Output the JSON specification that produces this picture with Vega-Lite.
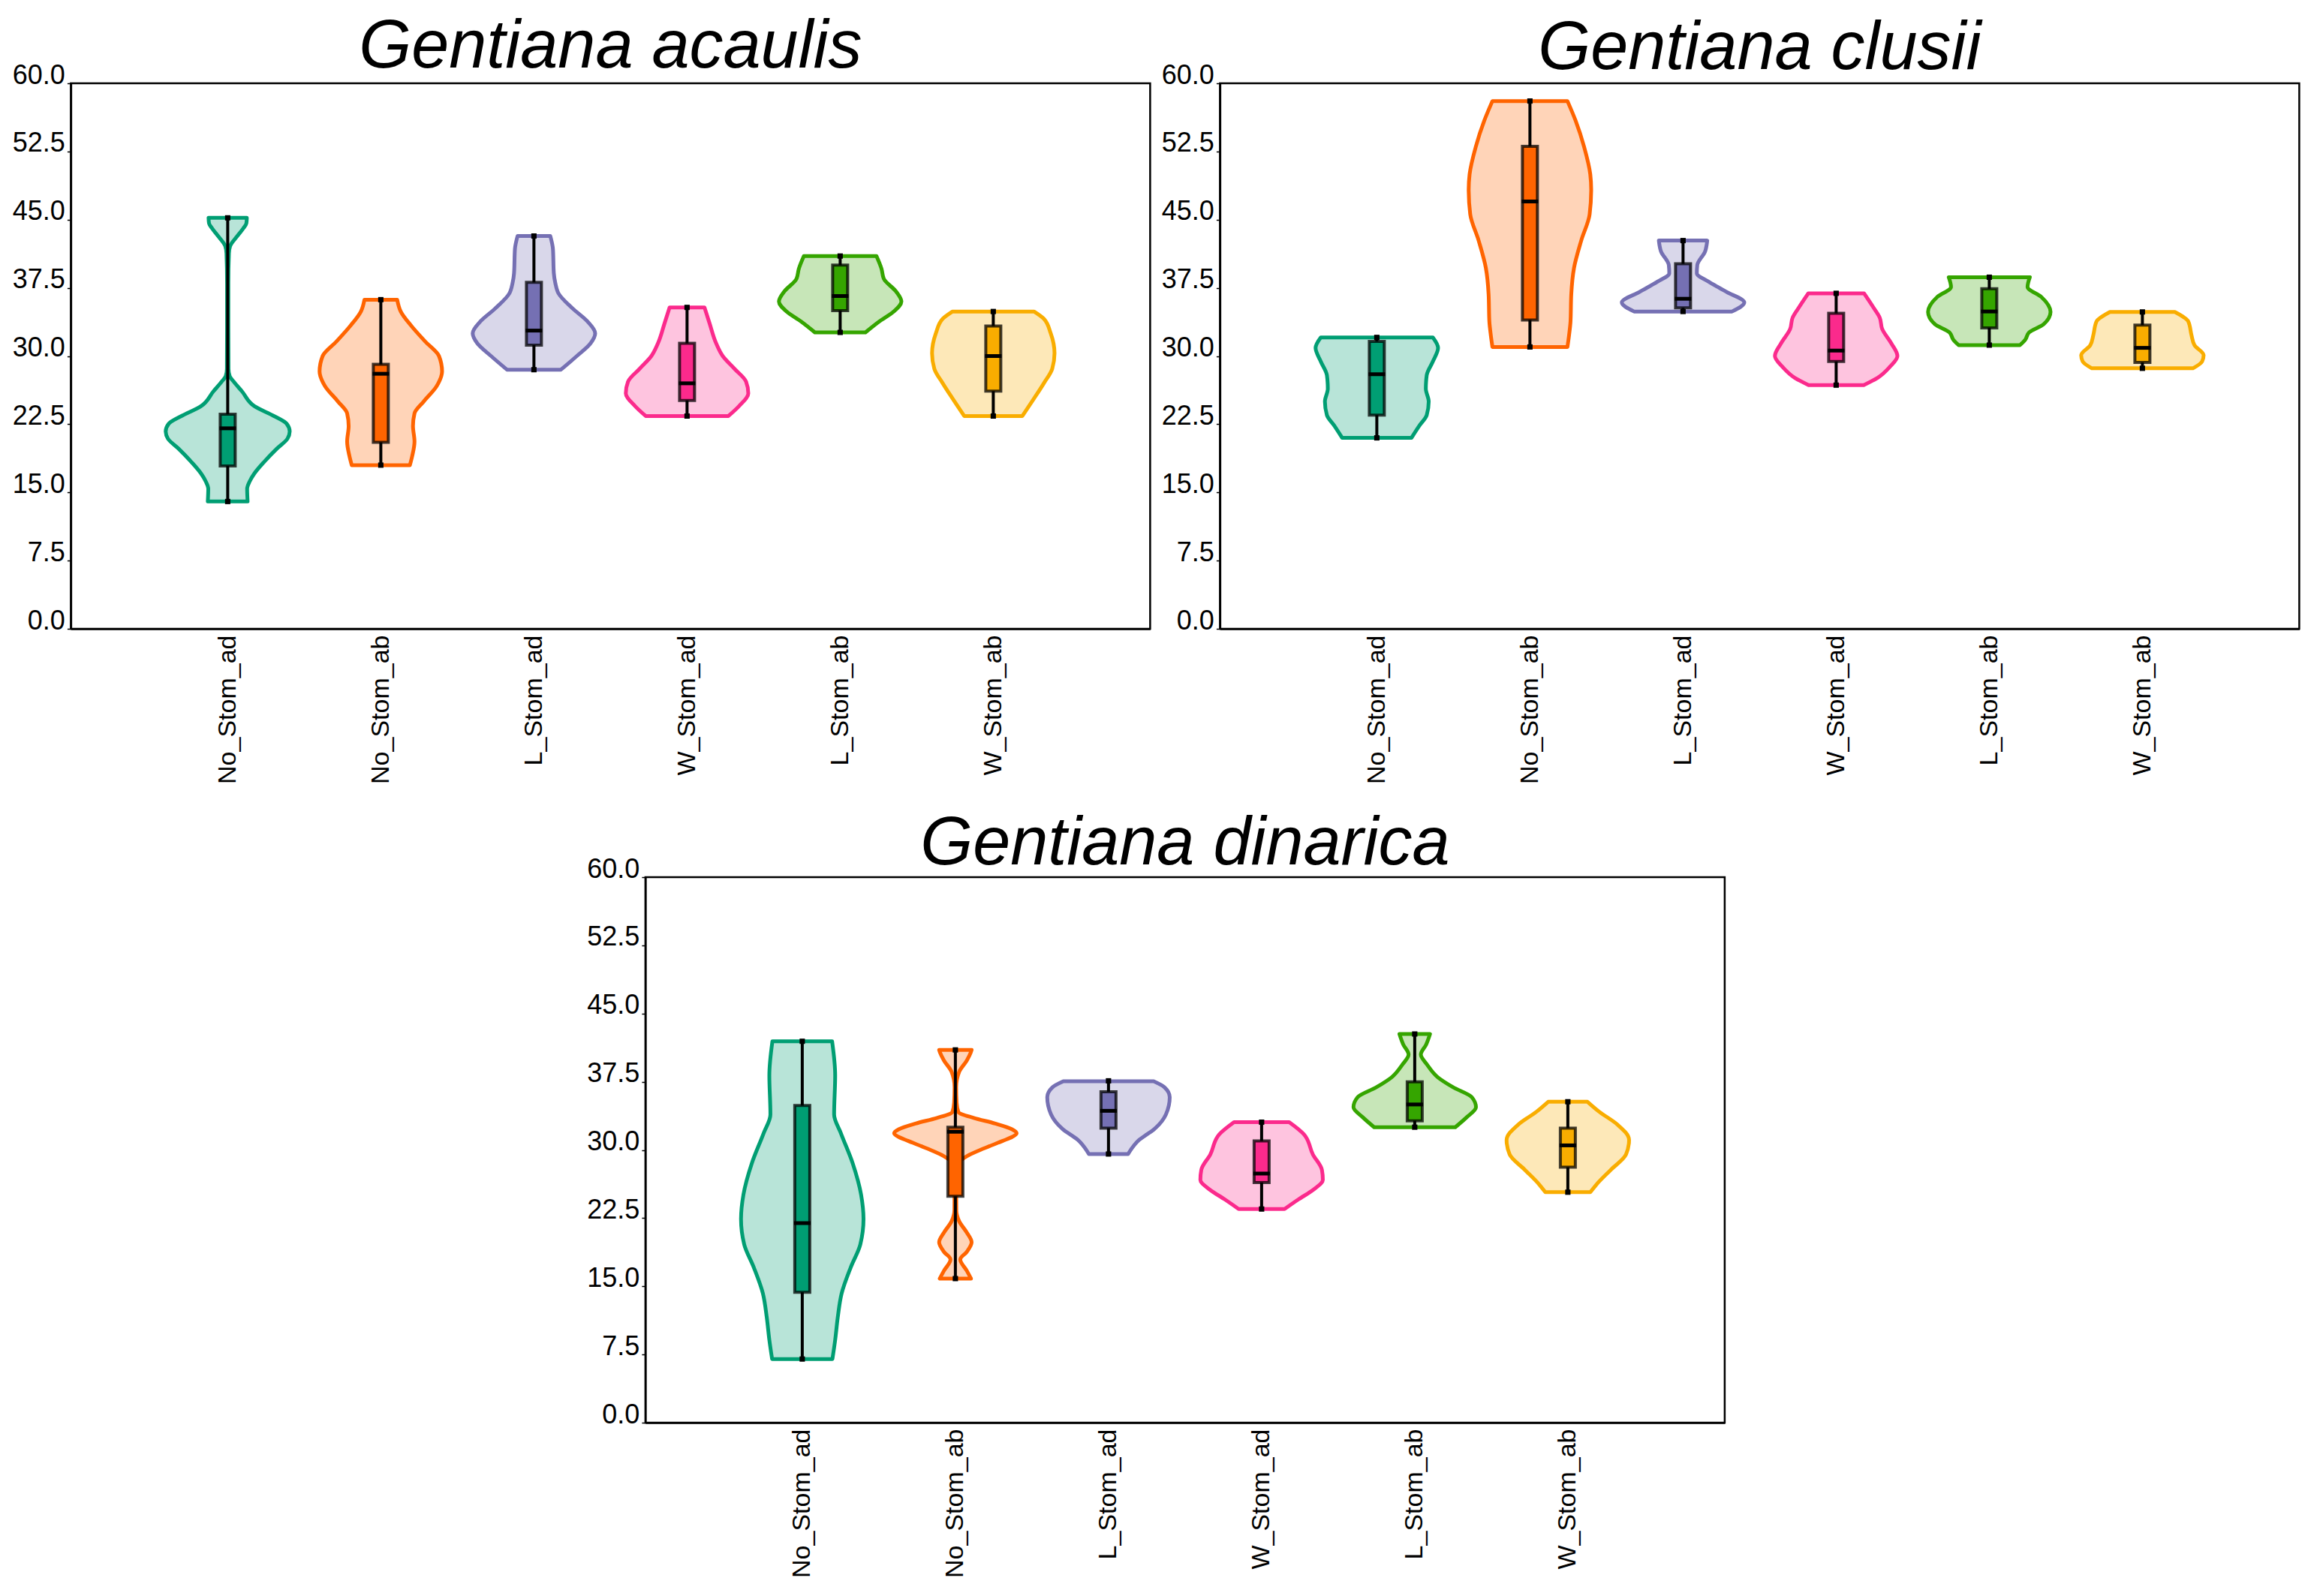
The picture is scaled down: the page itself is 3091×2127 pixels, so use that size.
{
  "$schema": "https://vega.github.io/schema/vega-lite/v6.json",
  "background": "white",
  "padding": {"left": 15, "top": 16, "right": 0, "bottom": 0},
  "config": {
    "font": "Liberation Sans",
    "view": {"stroke": "black", "strokeWidth": 2.5},
    "axis": {"grid": false, "domainColor": "black", "domainWidth": 2.5, "labelColor": "black", "labelFont": "Liberation Sans", "tickColor": "black", "labelOverlap": false, "labelFlush": false, "labelLimit": 400},
    "title": {"font": "Liberation Sans", "fontSize": 90, "fontStyle": "italic", "fontWeight": "normal", "color": "black", "anchor": "middle", "frame": "group", "baseline": "alphabetic"}
  },
  "datasets": {
    "violins": [
      {"sp":"acaulis","g":"No_Stom_ad","pos":1,"v":14.0,"w":0.13},{"sp":"acaulis","g":"No_Stom_ad","pos":1,"v":15.4,"w":0.127},{"sp":"acaulis","g":"No_Stom_ad","pos":1,"v":16.2,"w":0.143},{"sp":"acaulis","g":"No_Stom_ad","pos":1,"v":17.1,"w":0.175},{"sp":"acaulis","g":"No_Stom_ad","pos":1,"v":18.4,"w":0.24},{"sp":"acaulis","g":"No_Stom_ad","pos":1,"v":19.8,"w":0.32},{"sp":"acaulis","g":"No_Stom_ad","pos":1,"v":20.9,"w":0.39},{"sp":"acaulis","g":"No_Stom_ad","pos":1,"v":21.7,"w":0.405},{"sp":"acaulis","g":"No_Stom_ad","pos":1,"v":22.56,"w":0.385},{"sp":"acaulis","g":"No_Stom_ad","pos":1,"v":23.38,"w":0.305},{"sp":"acaulis","g":"No_Stom_ad","pos":1,"v":24.48,"w":0.175},{"sp":"acaulis","g":"No_Stom_ad","pos":1,"v":26.1,"w":0.094},{"sp":"acaulis","g":"No_Stom_ad","pos":1,"v":27.23,"w":0.037},{"sp":"acaulis","g":"No_Stom_ad","pos":1,"v":27.78,"w":0.013},{"sp":"acaulis","g":"No_Stom_ad","pos":1,"v":28.6,"w":0.005},{"sp":"acaulis","g":"No_Stom_ad","pos":1,"v":33.0,"w":0.004},{"sp":"acaulis","g":"No_Stom_ad","pos":1,"v":38.0,"w":0.004},{"sp":"acaulis","g":"No_Stom_ad","pos":1,"v":41.3,"w":0.008},{"sp":"acaulis","g":"No_Stom_ad","pos":1,"v":42.1,"w":0.016},{"sp":"acaulis","g":"No_Stom_ad","pos":1,"v":43.2,"w":0.063},{"sp":"acaulis","g":"No_Stom_ad","pos":1,"v":44.0,"w":0.1},{"sp":"acaulis","g":"No_Stom_ad","pos":1,"v":44.6,"w":0.122},{"sp":"acaulis","g":"No_Stom_ad","pos":1,"v":45.2,"w":0.125},
      {"sp":"acaulis","g":"No_Stom_ab","pos":2,"v":18.0,"w":0.19},{"sp":"acaulis","g":"No_Stom_ab","pos":2,"v":19.0,"w":0.205},{"sp":"acaulis","g":"No_Stom_ab","pos":2,"v":20.6,"w":0.22},{"sp":"acaulis","g":"No_Stom_ab","pos":2,"v":22.3,"w":0.21},{"sp":"acaulis","g":"No_Stom_ab","pos":2,"v":23.7,"w":0.22},{"sp":"acaulis","g":"No_Stom_ab","pos":2,"v":25.0,"w":0.28},{"sp":"acaulis","g":"No_Stom_ab","pos":2,"v":26.7,"w":0.365},{"sp":"acaulis","g":"No_Stom_ab","pos":2,"v":28.3,"w":0.4},{"sp":"acaulis","g":"No_Stom_ab","pos":2,"v":30.0,"w":0.38},{"sp":"acaulis","g":"No_Stom_ab","pos":2,"v":31.6,"w":0.29},{"sp":"acaulis","g":"No_Stom_ab","pos":2,"v":33.3,"w":0.2},{"sp":"acaulis","g":"No_Stom_ab","pos":2,"v":34.9,"w":0.13},{"sp":"acaulis","g":"No_Stom_ab","pos":2,"v":36.2,"w":0.107},
      {"sp":"acaulis","g":"L_Stom_ad","pos":3,"v":28.5,"w":0.176},{"sp":"acaulis","g":"L_Stom_ad","pos":3,"v":30.0,"w":0.28},{"sp":"acaulis","g":"L_Stom_ad","pos":3,"v":31.4,"w":0.37},{"sp":"acaulis","g":"L_Stom_ad","pos":3,"v":32.5,"w":0.4},{"sp":"acaulis","g":"L_Stom_ad","pos":3,"v":33.8,"w":0.35},{"sp":"acaulis","g":"L_Stom_ad","pos":3,"v":35.2,"w":0.255},{"sp":"acaulis","g":"L_Stom_ad","pos":3,"v":36.9,"w":0.16},{"sp":"acaulis","g":"L_Stom_ad","pos":3,"v":38.0,"w":0.14},{"sp":"acaulis","g":"L_Stom_ad","pos":3,"v":39.1,"w":0.13},{"sp":"acaulis","g":"L_Stom_ad","pos":3,"v":41.8,"w":0.124},{"sp":"acaulis","g":"L_Stom_ad","pos":3,"v":43.2,"w":0.107},
      {"sp":"acaulis","g":"W_Stom_ad","pos":4,"v":23.4,"w":0.27},{"sp":"acaulis","g":"W_Stom_ad","pos":4,"v":24.5,"w":0.34},{"sp":"acaulis","g":"W_Stom_ad","pos":4,"v":25.9,"w":0.4},{"sp":"acaulis","g":"W_Stom_ad","pos":4,"v":27.2,"w":0.385},{"sp":"acaulis","g":"W_Stom_ad","pos":4,"v":28.6,"w":0.31},{"sp":"acaulis","g":"W_Stom_ad","pos":4,"v":30.0,"w":0.233},{"sp":"acaulis","g":"W_Stom_ad","pos":4,"v":31.4,"w":0.19},{"sp":"acaulis","g":"W_Stom_ad","pos":4,"v":33.6,"w":0.147},{"sp":"acaulis","g":"W_Stom_ad","pos":4,"v":35.35,"w":0.114},
      {"sp":"acaulis","g":"L_Stom_ab","pos":5,"v":32.6,"w":0.165},{"sp":"acaulis","g":"L_Stom_ab","pos":5,"v":33.8,"w":0.255},{"sp":"acaulis","g":"L_Stom_ab","pos":5,"v":34.9,"w":0.35},{"sp":"acaulis","g":"L_Stom_ab","pos":5,"v":36.0,"w":0.4},{"sp":"acaulis","g":"L_Stom_ab","pos":5,"v":37.1,"w":0.365},{"sp":"acaulis","g":"L_Stom_ab","pos":5,"v":38.5,"w":0.285},{"sp":"acaulis","g":"L_Stom_ab","pos":5,"v":39.6,"w":0.27},{"sp":"acaulis","g":"L_Stom_ab","pos":5,"v":41.0,"w":0.237},
      {"sp":"acaulis","g":"W_Stom_ab","pos":6,"v":23.4,"w":0.19},{"sp":"acaulis","g":"W_Stom_ab","pos":6,"v":25.3,"w":0.265},{"sp":"acaulis","g":"W_Stom_ab","pos":6,"v":27.0,"w":0.33},{"sp":"acaulis","g":"W_Stom_ab","pos":6,"v":28.6,"w":0.385},{"sp":"acaulis","g":"W_Stom_ab","pos":6,"v":30.3,"w":0.4},{"sp":"acaulis","g":"W_Stom_ab","pos":6,"v":32.5,"w":0.375},{"sp":"acaulis","g":"W_Stom_ab","pos":6,"v":34.1,"w":0.33},{"sp":"acaulis","g":"W_Stom_ab","pos":6,"v":34.9,"w":0.266},
      {"sp":"clusii","g":"No_Stom_ad","pos":1,"v":21.0,"w":0.226},{"sp":"clusii","g":"No_Stom_ad","pos":1,"v":22.3,"w":0.276},{"sp":"clusii","g":"No_Stom_ad","pos":1,"v":23.5,"w":0.326},{"sp":"clusii","g":"No_Stom_ad","pos":1,"v":25.0,"w":0.339},{"sp":"clusii","g":"No_Stom_ad","pos":1,"v":26.4,"w":0.32},{"sp":"clusii","g":"No_Stom_ad","pos":1,"v":27.9,"w":0.326},{"sp":"clusii","g":"No_Stom_ad","pos":1,"v":29.4,"w":0.366},{"sp":"clusii","g":"No_Stom_ad","pos":1,"v":30.9,"w":0.4},{"sp":"clusii","g":"No_Stom_ad","pos":1,"v":32.05,"w":0.366},
      {"sp":"clusii","g":"No_Stom_ab","pos":2,"v":31.0,"w":0.245},{"sp":"clusii","g":"No_Stom_ab","pos":2,"v":32.35,"w":0.256},{"sp":"clusii","g":"No_Stom_ab","pos":2,"v":33.8,"w":0.265},{"sp":"clusii","g":"No_Stom_ab","pos":2,"v":36.8,"w":0.27},{"sp":"clusii","g":"No_Stom_ab","pos":2,"v":39.7,"w":0.288},{"sp":"clusii","g":"No_Stom_ab","pos":2,"v":42.7,"w":0.335},{"sp":"clusii","g":"No_Stom_ab","pos":2,"v":45.6,"w":0.39},{"sp":"clusii","g":"No_Stom_ab","pos":2,"v":48.3,"w":0.4},{"sp":"clusii","g":"No_Stom_ab","pos":2,"v":50.0,"w":0.394},{"sp":"clusii","g":"No_Stom_ab","pos":2,"v":53.0,"w":0.354},{"sp":"clusii","g":"No_Stom_ab","pos":2,"v":55.9,"w":0.298},{"sp":"clusii","g":"No_Stom_ab","pos":2,"v":58.05,"w":0.245},
      {"sp":"clusii","g":"L_Stom_ad","pos":3,"v":34.9,"w":0.32},{"sp":"clusii","g":"L_Stom_ad","pos":3,"v":35.9,"w":0.4},{"sp":"clusii","g":"L_Stom_ad","pos":3,"v":37.05,"w":0.285},{"sp":"clusii","g":"L_Stom_ad","pos":3,"v":38.2,"w":0.165},{"sp":"clusii","g":"L_Stom_ad","pos":3,"v":39.1,"w":0.09},{"sp":"clusii","g":"L_Stom_ad","pos":3,"v":40.0,"w":0.093},{"sp":"clusii","g":"L_Stom_ad","pos":3,"v":41.5,"w":0.144},{"sp":"clusii","g":"L_Stom_ad","pos":3,"v":42.7,"w":0.158},
      {"sp":"clusii","g":"W_Stom_ad","pos":4,"v":26.8,"w":0.18},{"sp":"clusii","g":"W_Stom_ad","pos":4,"v":27.6,"w":0.27},{"sp":"clusii","g":"W_Stom_ad","pos":4,"v":28.8,"w":0.35},{"sp":"clusii","g":"W_Stom_ad","pos":4,"v":30.0,"w":0.4},{"sp":"clusii","g":"W_Stom_ad","pos":4,"v":31.4,"w":0.36},{"sp":"clusii","g":"W_Stom_ad","pos":4,"v":33.0,"w":0.3},{"sp":"clusii","g":"W_Stom_ad","pos":4,"v":34.2,"w":0.285},{"sp":"clusii","g":"W_Stom_ad","pos":4,"v":35.3,"w":0.245},{"sp":"clusii","g":"W_Stom_ad","pos":4,"v":36.9,"w":0.182},
      {"sp":"clusii","g":"L_Stom_ab","pos":5,"v":31.2,"w":0.2},{"sp":"clusii","g":"L_Stom_ab","pos":5,"v":31.8,"w":0.235},{"sp":"clusii","g":"L_Stom_ab","pos":5,"v":32.6,"w":0.26},{"sp":"clusii","g":"L_Stom_ab","pos":5,"v":33.5,"w":0.355},{"sp":"clusii","g":"L_Stom_ab","pos":5,"v":34.85,"w":0.4},{"sp":"clusii","g":"L_Stom_ab","pos":5,"v":36.5,"w":0.34},{"sp":"clusii","g":"L_Stom_ab","pos":5,"v":37.6,"w":0.25},{"sp":"clusii","g":"L_Stom_ab","pos":5,"v":38.67,"w":0.265},
      {"sp":"clusii","g":"W_Stom_ab","pos":6,"v":28.65,"w":0.33},{"sp":"clusii","g":"W_Stom_ab","pos":6,"v":29.4,"w":0.39},{"sp":"clusii","g":"W_Stom_ab","pos":6,"v":30.1,"w":0.4},{"sp":"clusii","g":"W_Stom_ab","pos":6,"v":31.2,"w":0.34},{"sp":"clusii","g":"W_Stom_ab","pos":6,"v":32.35,"w":0.32},{"sp":"clusii","g":"W_Stom_ab","pos":6,"v":33.8,"w":0.3},{"sp":"clusii","g":"W_Stom_ab","pos":6,"v":34.85,"w":0.212},
      {"sp":"dinarica","g":"No_Stom_ad","pos":1,"v":7.0,"w":0.197},{"sp":"dinarica","g":"No_Stom_ad","pos":1,"v":9.1,"w":0.215},{"sp":"dinarica","g":"No_Stom_ad","pos":1,"v":11.6,"w":0.232},{"sp":"dinarica","g":"No_Stom_ad","pos":1,"v":14.2,"w":0.257},{"sp":"dinarica","g":"No_Stom_ad","pos":1,"v":17.1,"w":0.317},{"sp":"dinarica","g":"No_Stom_ad","pos":1,"v":19.6,"w":0.379},{"sp":"dinarica","g":"No_Stom_ad","pos":1,"v":22.4,"w":0.4},{"sp":"dinarica","g":"No_Stom_ad","pos":1,"v":25.1,"w":0.384},{"sp":"dinarica","g":"No_Stom_ad","pos":1,"v":28.5,"w":0.33},{"sp":"dinarica","g":"No_Stom_ad","pos":1,"v":31.85,"w":0.252},{"sp":"dinarica","g":"No_Stom_ad","pos":1,"v":33.9,"w":0.208},{"sp":"dinarica","g":"No_Stom_ad","pos":1,"v":38.2,"w":0.215},{"sp":"dinarica","g":"No_Stom_ad","pos":1,"v":41.95,"w":0.195},
      {"sp":"dinarica","g":"No_Stom_ab","pos":2,"v":15.85,"w":0.102},{"sp":"dinarica","g":"No_Stom_ab","pos":2,"v":16.7,"w":0.075},{"sp":"dinarica","g":"No_Stom_ab","pos":2,"v":17.95,"w":0.032},{"sp":"dinarica","g":"No_Stom_ab","pos":2,"v":18.8,"w":0.075},{"sp":"dinarica","g":"No_Stom_ab","pos":2,"v":19.85,"w":0.106},{"sp":"dinarica","g":"No_Stom_ab","pos":2,"v":20.9,"w":0.075},{"sp":"dinarica","g":"No_Stom_ab","pos":2,"v":22.15,"w":0.025},{"sp":"dinarica","g":"No_Stom_ab","pos":2,"v":23.4,"w":0.006},{"sp":"dinarica","g":"No_Stom_ab","pos":2,"v":27.0,"w":0.005},{"sp":"dinarica","g":"No_Stom_ab","pos":2,"v":28.06,"w":0.008},{"sp":"dinarica","g":"No_Stom_ab","pos":2,"v":28.69,"w":0.025},{"sp":"dinarica","g":"No_Stom_ab","pos":2,"v":29.31,"w":0.075},{"sp":"dinarica","g":"No_Stom_ab","pos":2,"v":30.16,"w":0.186},{"sp":"dinarica","g":"No_Stom_ab","pos":2,"v":31.0,"w":0.31},{"sp":"dinarica","g":"No_Stom_ab","pos":2,"v":31.42,"w":0.37},{"sp":"dinarica","g":"No_Stom_ab","pos":2,"v":31.84,"w":0.4},{"sp":"dinarica","g":"No_Stom_ab","pos":2,"v":32.27,"w":0.37},{"sp":"dinarica","g":"No_Stom_ab","pos":2,"v":32.9,"w":0.26},{"sp":"dinarica","g":"No_Stom_ab","pos":2,"v":33.52,"w":0.12},{"sp":"dinarica","g":"No_Stom_ab","pos":2,"v":34.16,"w":0.02},{"sp":"dinarica","g":"No_Stom_ab","pos":2,"v":35.2,"w":0.008},{"sp":"dinarica","g":"No_Stom_ab","pos":2,"v":36.9,"w":0.005},{"sp":"dinarica","g":"No_Stom_ab","pos":2,"v":38.6,"w":0.025},{"sp":"dinarica","g":"No_Stom_ab","pos":2,"v":39.85,"w":0.075},{"sp":"dinarica","g":"No_Stom_ab","pos":2,"v":40.7,"w":0.1},{"sp":"dinarica","g":"No_Stom_ab","pos":2,"v":41.0,"w":0.106},
      {"sp":"dinarica","g":"L_Stom_ad","pos":3,"v":29.55,"w":0.128},{"sp":"dinarica","g":"L_Stom_ad","pos":3,"v":31.1,"w":0.2},{"sp":"dinarica","g":"L_Stom_ad","pos":3,"v":32.3,"w":0.3},{"sp":"dinarica","g":"L_Stom_ad","pos":3,"v":33.9,"w":0.375},{"sp":"dinarica","g":"L_Stom_ad","pos":3,"v":35.8,"w":0.4},{"sp":"dinarica","g":"L_Stom_ad","pos":3,"v":36.9,"w":0.365},{"sp":"dinarica","g":"L_Stom_ad","pos":3,"v":37.55,"w":0.295},
      {"sp":"dinarica","g":"W_Stom_ad","pos":4,"v":23.5,"w":0.15},{"sp":"dinarica","g":"W_Stom_ad","pos":4,"v":24.55,"w":0.24},{"sp":"dinarica","g":"W_Stom_ad","pos":4,"v":25.65,"w":0.34},{"sp":"dinarica","g":"W_Stom_ad","pos":4,"v":26.7,"w":0.4},{"sp":"dinarica","g":"W_Stom_ad","pos":4,"v":27.8,"w":0.394},{"sp":"dinarica","g":"W_Stom_ad","pos":4,"v":29.5,"w":0.335},{"sp":"dinarica","g":"W_Stom_ad","pos":4,"v":31.7,"w":0.277},{"sp":"dinarica","g":"W_Stom_ad","pos":4,"v":33.05,"w":0.18},
      {"sp":"dinarica","g":"L_Stom_ab","pos":5,"v":32.5,"w":0.265},{"sp":"dinarica","g":"L_Stom_ab","pos":5,"v":33.6,"w":0.34},{"sp":"dinarica","g":"L_Stom_ab","pos":5,"v":34.7,"w":0.4},{"sp":"dinarica","g":"L_Stom_ab","pos":5,"v":35.8,"w":0.373},{"sp":"dinarica","g":"L_Stom_ab","pos":5,"v":36.9,"w":0.25},{"sp":"dinarica","g":"L_Stom_ab","pos":5,"v":38.0,"w":0.15},{"sp":"dinarica","g":"L_Stom_ab","pos":5,"v":39.4,"w":0.08},{"sp":"dinarica","g":"L_Stom_ab","pos":5,"v":40.5,"w":0.04},{"sp":"dinarica","g":"L_Stom_ab","pos":5,"v":41.6,"w":0.075},{"sp":"dinarica","g":"L_Stom_ab","pos":5,"v":42.75,"w":0.1},
      {"sp":"dinarica","g":"W_Stom_ab","pos":6,"v":25.35,"w":0.147},{"sp":"dinarica","g":"W_Stom_ab","pos":6,"v":26.2,"w":0.187},{"sp":"dinarica","g":"W_Stom_ab","pos":6,"v":27.8,"w":0.28},{"sp":"dinarica","g":"W_Stom_ab","pos":6,"v":29.5,"w":0.38},{"sp":"dinarica","g":"W_Stom_ab","pos":6,"v":31.1,"w":0.4},{"sp":"dinarica","g":"W_Stom_ab","pos":6,"v":32.8,"w":0.323},{"sp":"dinarica","g":"W_Stom_ab","pos":6,"v":34.2,"w":0.205},{"sp":"dinarica","g":"W_Stom_ab","pos":6,"v":35.3,"w":0.128}
    ],
    "boxes": [
      {"sp":"acaulis","g":"No_Stom_ad","pos":1,"min":14.0,"q1":17.9,"med":22.05,"q3":23.6,"max":45.2},
      {"sp":"acaulis","g":"No_Stom_ab","pos":2,"min":18.0,"q1":20.5,"med":28.05,"q3":29.1,"max":36.2},
      {"sp":"acaulis","g":"L_Stom_ad","pos":3,"min":28.5,"q1":31.2,"med":32.8,"q3":38.1,"max":43.2},
      {"sp":"acaulis","g":"W_Stom_ad","pos":4,"min":23.4,"q1":25.1,"med":27.0,"q3":31.4,"max":35.35},
      {"sp":"acaulis","g":"L_Stom_ab","pos":5,"min":32.6,"q1":35.0,"med":36.6,"q3":40.0,"max":41.0},
      {"sp":"acaulis","g":"W_Stom_ab","pos":6,"min":23.4,"q1":26.15,"med":30.0,"q3":33.3,"max":34.9},
      {"sp":"clusii","g":"No_Stom_ad","pos":1,"min":21.0,"q1":23.5,"med":28.0,"q3":31.6,"max":32.05},
      {"sp":"clusii","g":"No_Stom_ab","pos":2,"min":31.0,"q1":33.96,"med":47.0,"q3":53.07,"max":58.05},
      {"sp":"clusii","g":"L_Stom_ad","pos":3,"min":34.9,"q1":35.3,"med":36.3,"q3":40.15,"max":42.7},
      {"sp":"clusii","g":"W_Stom_ad","pos":4,"min":26.8,"q1":29.4,"med":30.6,"q3":34.7,"max":36.9},
      {"sp":"clusii","g":"L_Stom_ab","pos":5,"min":31.2,"q1":33.1,"med":34.9,"q3":37.4,"max":38.67},
      {"sp":"clusii","g":"W_Stom_ab","pos":6,"min":28.65,"q1":29.3,"med":30.9,"q3":33.4,"max":34.85},
      {"sp":"dinarica","g":"No_Stom_ad","pos":1,"min":7.0,"q1":14.35,"med":21.95,"q3":34.9,"max":41.95},
      {"sp":"dinarica","g":"No_Stom_ab","pos":2,"min":15.85,"q1":24.9,"med":32.0,"q3":32.5,"max":41.0},
      {"sp":"dinarica","g":"L_Stom_ad","pos":3,"min":29.55,"q1":32.4,"med":34.3,"q3":36.4,"max":37.6},
      {"sp":"dinarica","g":"W_Stom_ad","pos":4,"min":23.5,"q1":26.4,"med":27.4,"q3":31.0,"max":33.05},
      {"sp":"dinarica","g":"L_Stom_ab","pos":5,"min":32.5,"q1":33.2,"med":35.0,"q3":37.5,"max":42.75},
      {"sp":"dinarica","g":"W_Stom_ab","pos":6,"min":25.35,"q1":28.1,"med":30.5,"q3":32.4,"max":35.3}
    ]
  },
  "vconcat": [
    {
      "hconcat": [
        {
          "title": {"text": "Gentiana acaulis", "offset": -27},
          "width": 1438, "height": 727,
          "layer": [
            {"data": {"name": "violins"}, "transform": [{"filter": "datum.sp === 'acaulis'"}, {"calculate": "datum.pos - datum.w", "as": "lo"}, {"calculate": "datum.pos + datum.w", "as": "hi"}],
             "mark": {"type": "area", "orient": "horizontal", "interpolate": "monotone", "strokeWidth": 5, "fillOpacity": 0.28, "strokeJoin": "round"},
             "encoding": {
               "y": {"field": "v", "type": "quantitative", "title": null, "scale": {"domain": [0, 60], "nice": false}, "axis": {"values": [0, 7.5, 15, 22.5, 30, 37.5, 45, 52.5, 60], "format": ".1f", "labelFontSize": 36, "tickSize": 5, "tickWidth": 1.5, "labelPadding": 3, "labelBaseline": "alphabetic"}},
               "x": {"field": "lo", "type": "quantitative", "title": null, "scale": {"domain": [0, 7], "nice": false, "zero": false}, "axis": {"values": [1, 2, 3, 4, 5, 6], "labelExpr": "['', 'No_Stom_ad', 'No_Stom_ab', 'L_Stom_ad', 'W_Stom_ad', 'L_Stom_ab', 'W_Stom_ab'][datum.value]", "labelAngle": -90, "ticks": false, "tickSize": 0, "labelFontSize": 34, "labelPadding": 8}},
               "x2": {"field": "hi"},
               "fill": {"field": "g", "type": "nominal", "scale": {"domain": ["No_Stom_ad", "No_Stom_ab", "L_Stom_ad", "W_Stom_ad", "L_Stom_ab", "W_Stom_ab"], "range": ["#009e73", "#ff6400", "#7570b3", "#fb2a8c", "#35a500", "#f9ad00"]}, "legend": null},
               "stroke": {"field": "g", "type": "nominal", "scale": {"domain": ["No_Stom_ad", "No_Stom_ab", "L_Stom_ad", "W_Stom_ad", "L_Stom_ab", "W_Stom_ab"], "range": ["#009e73", "#ff6400", "#7570b3", "#fb2a8c", "#35a500", "#f9ad00"]}, "legend": null}
             }},
            {"data": {"name": "boxes"}, "transform": [{"filter": "datum.sp === 'acaulis'"}],
             "mark": {"type": "rule", "strokeWidth": 4, "color": "black"},
             "encoding": {"x": {"field": "pos", "type": "quantitative", "title": null}, "y": {"field": "min", "type": "quantitative", "title": null}, "y2": {"field": "max"}}},
            {"data": {"name": "boxes"}, "transform": [{"filter": "datum.sp === 'acaulis'"}],
             "mark": {"type": "square", "size": 50, "color": "black", "opacity": 1},
             "encoding": {"x": {"field": "pos", "type": "quantitative", "title": null}, "y": {"field": "min", "type": "quantitative", "title": null}}},
            {"data": {"name": "boxes"}, "transform": [{"filter": "datum.sp === 'acaulis'"}],
             "mark": {"type": "square", "size": 50, "color": "black", "opacity": 1},
             "encoding": {"x": {"field": "pos", "type": "quantitative", "title": null}, "y": {"field": "max", "type": "quantitative", "title": null}}},
            {"data": {"name": "boxes"}, "transform": [{"filter": "datum.sp === 'acaulis'"}],
             "mark": {"type": "bar", "width": 20, "stroke": "black", "strokeOpacity": 0.75, "strokeWidth": 4, "fillOpacity": 1},
             "encoding": {"x": {"field": "pos", "type": "quantitative", "title": null}, "y": {"field": "q1", "type": "quantitative", "title": null}, "y2": {"field": "q3"},
               "fill": {"field": "g", "type": "nominal", "legend": null}}},
            {"data": {"name": "boxes"}, "transform": [{"filter": "datum.sp === 'acaulis'"}],
             "mark": {"type": "tick", "orient": "horizontal", "size": 22, "thickness": 5, "color": "black", "opacity": 1},
             "encoding": {"x": {"field": "pos", "type": "quantitative", "title": null}, "y": {"field": "med", "type": "quantitative", "title": null}}}
          ]
        },
        {
          "title": {"text": "Gentiana clusii", "offset": -29},
          "width": 1438, "height": 727,
          "layer": [
            {"data": {"name": "violins"}, "transform": [{"filter": "datum.sp === 'clusii'"}, {"calculate": "datum.pos - datum.w", "as": "lo"}, {"calculate": "datum.pos + datum.w", "as": "hi"}],
             "mark": {"type": "area", "orient": "horizontal", "interpolate": "monotone", "strokeWidth": 5, "fillOpacity": 0.28, "strokeJoin": "round"},
             "encoding": {
               "y": {"field": "v", "type": "quantitative", "title": null, "scale": {"domain": [0, 60], "nice": false}, "axis": {"values": [0, 7.5, 15, 22.5, 30, 37.5, 45, 52.5, 60], "format": ".1f", "labelFontSize": 36, "tickSize": 5, "tickWidth": 1.5, "labelPadding": 3, "labelBaseline": "alphabetic"}},
               "x": {"field": "lo", "type": "quantitative", "title": null, "scale": {"domain": [0, 7], "nice": false, "zero": false}, "axis": {"values": [1, 2, 3, 4, 5, 6], "labelExpr": "['', 'No_Stom_ad', 'No_Stom_ab', 'L_Stom_ad', 'W_Stom_ad', 'L_Stom_ab', 'W_Stom_ab'][datum.value]", "labelAngle": -90, "ticks": false, "tickSize": 0, "labelFontSize": 34, "labelPadding": 8}},
               "x2": {"field": "hi"},
               "fill": {"field": "g", "type": "nominal", "scale": {"domain": ["No_Stom_ad", "No_Stom_ab", "L_Stom_ad", "W_Stom_ad", "L_Stom_ab", "W_Stom_ab"], "range": ["#009e73", "#ff6400", "#7570b3", "#fb2a8c", "#35a500", "#f9ad00"]}, "legend": null},
               "stroke": {"field": "g", "type": "nominal", "scale": {"domain": ["No_Stom_ad", "No_Stom_ab", "L_Stom_ad", "W_Stom_ad", "L_Stom_ab", "W_Stom_ab"], "range": ["#009e73", "#ff6400", "#7570b3", "#fb2a8c", "#35a500", "#f9ad00"]}, "legend": null}
             }},
            {"data": {"name": "boxes"}, "transform": [{"filter": "datum.sp === 'clusii'"}],
             "mark": {"type": "rule", "strokeWidth": 4, "color": "black"},
             "encoding": {"x": {"field": "pos", "type": "quantitative", "title": null}, "y": {"field": "min", "type": "quantitative", "title": null}, "y2": {"field": "max"}}},
            {"data": {"name": "boxes"}, "transform": [{"filter": "datum.sp === 'clusii'"}],
             "mark": {"type": "square", "size": 50, "color": "black", "opacity": 1},
             "encoding": {"x": {"field": "pos", "type": "quantitative", "title": null}, "y": {"field": "min", "type": "quantitative", "title": null}}},
            {"data": {"name": "boxes"}, "transform": [{"filter": "datum.sp === 'clusii'"}],
             "mark": {"type": "square", "size": 50, "color": "black", "opacity": 1},
             "encoding": {"x": {"field": "pos", "type": "quantitative", "title": null}, "y": {"field": "max", "type": "quantitative", "title": null}}},
            {"data": {"name": "boxes"}, "transform": [{"filter": "datum.sp === 'clusii'"}],
             "mark": {"type": "bar", "width": 20, "stroke": "black", "strokeOpacity": 0.75, "strokeWidth": 4, "fillOpacity": 1},
             "encoding": {"x": {"field": "pos", "type": "quantitative", "title": null}, "y": {"field": "q1", "type": "quantitative", "title": null}, "y2": {"field": "q3"},
               "fill": {"field": "g", "type": "nominal", "legend": null}}},
            {"data": {"name": "boxes"}, "transform": [{"filter": "datum.sp === 'clusii'"}],
             "mark": {"type": "tick", "orient": "horizontal", "size": 22, "thickness": 5, "color": "black", "opacity": 1},
             "encoding": {"x": {"field": "pos", "type": "quantitative", "title": null}, "y": {"field": "med", "type": "quantitative", "title": null}}}
          ]
        }
      ],
      "spacing": 11
    },
    {
      "title": {"text": "Gentiana dinarica", "offset": -31},
      "width": 1438, "height": 727,
      "layer": [
        {"data": {"name": "violins"}, "transform": [{"filter": "datum.sp === 'dinarica'"}, {"calculate": "datum.pos - datum.w", "as": "lo"}, {"calculate": "datum.pos + datum.w", "as": "hi"}],
         "mark": {"type": "area", "orient": "horizontal", "interpolate": "monotone", "strokeWidth": 5, "fillOpacity": 0.28, "strokeJoin": "round"},
         "encoding": {
           "y": {"field": "v", "type": "quantitative", "title": null, "scale": {"domain": [0, 60], "nice": false}, "axis": {"values": [0, 7.5, 15, 22.5, 30, 37.5, 45, 52.5, 60], "format": ".1f", "labelFontSize": 36, "tickSize": 5, "tickWidth": 1.5, "labelPadding": 3, "labelBaseline": "alphabetic"}},
           "x": {"field": "lo", "type": "quantitative", "title": null, "scale": {"domain": [0, 7], "nice": false, "zero": false}, "axis": {"values": [1, 2, 3, 4, 5, 6], "labelExpr": "['', 'No_Stom_ad', 'No_Stom_ab', 'L_Stom_ad', 'W_Stom_ad', 'L_Stom_ab', 'W_Stom_ab'][datum.value]", "labelAngle": -90, "ticks": false, "tickSize": 0, "labelFontSize": 34, "labelPadding": 8}},
           "x2": {"field": "hi"},
           "fill": {"field": "g", "type": "nominal", "scale": {"domain": ["No_Stom_ad", "No_Stom_ab", "L_Stom_ad", "W_Stom_ad", "L_Stom_ab", "W_Stom_ab"], "range": ["#009e73", "#ff6400", "#7570b3", "#fb2a8c", "#35a500", "#f9ad00"]}, "legend": null},
           "stroke": {"field": "g", "type": "nominal", "scale": {"domain": ["No_Stom_ad", "No_Stom_ab", "L_Stom_ad", "W_Stom_ad", "L_Stom_ab", "W_Stom_ab"], "range": ["#009e73", "#ff6400", "#7570b3", "#fb2a8c", "#35a500", "#f9ad00"]}, "legend": null}
         }},
        {"data": {"name": "boxes"}, "transform": [{"filter": "datum.sp === 'dinarica'"}],
         "mark": {"type": "rule", "strokeWidth": 4, "color": "black"},
         "encoding": {"x": {"field": "pos", "type": "quantitative", "title": null}, "y": {"field": "min", "type": "quantitative", "title": null}, "y2": {"field": "max"}}},
        {"data": {"name": "boxes"}, "transform": [{"filter": "datum.sp === 'dinarica'"}],
         "mark": {"type": "square", "size": 50, "color": "black", "opacity": 1},
         "encoding": {"x": {"field": "pos", "type": "quantitative", "title": null}, "y": {"field": "min", "type": "quantitative", "title": null}}},
        {"data": {"name": "boxes"}, "transform": [{"filter": "datum.sp === 'dinarica'"}],
         "mark": {"type": "square", "size": 50, "color": "black", "opacity": 1},
         "encoding": {"x": {"field": "pos", "type": "quantitative", "title": null}, "y": {"field": "max", "type": "quantitative", "title": null}}},
        {"data": {"name": "boxes"}, "transform": [{"filter": "datum.sp === 'dinarica'"}],
         "mark": {"type": "bar", "width": 20, "stroke": "black", "strokeOpacity": 0.75, "strokeWidth": 4, "fillOpacity": 1},
         "encoding": {"x": {"field": "pos", "type": "quantitative", "title": null}, "y": {"field": "q1", "type": "quantitative", "title": null}, "y2": {"field": "q3"},
           "fill": {"field": "g", "type": "nominal", "legend": null}}},
        {"data": {"name": "boxes"}, "transform": [{"filter": "datum.sp === 'dinarica'"}],
         "mark": {"type": "tick", "orient": "horizontal", "size": 22, "thickness": 5, "color": "black", "opacity": 1},
         "encoding": {"x": {"field": "pos", "type": "quantitative", "title": null}, "y": {"field": "med", "type": "quantitative", "title": null}}}
      ]
    }
  ],
  "spacing": 32,
  "center": true
}
